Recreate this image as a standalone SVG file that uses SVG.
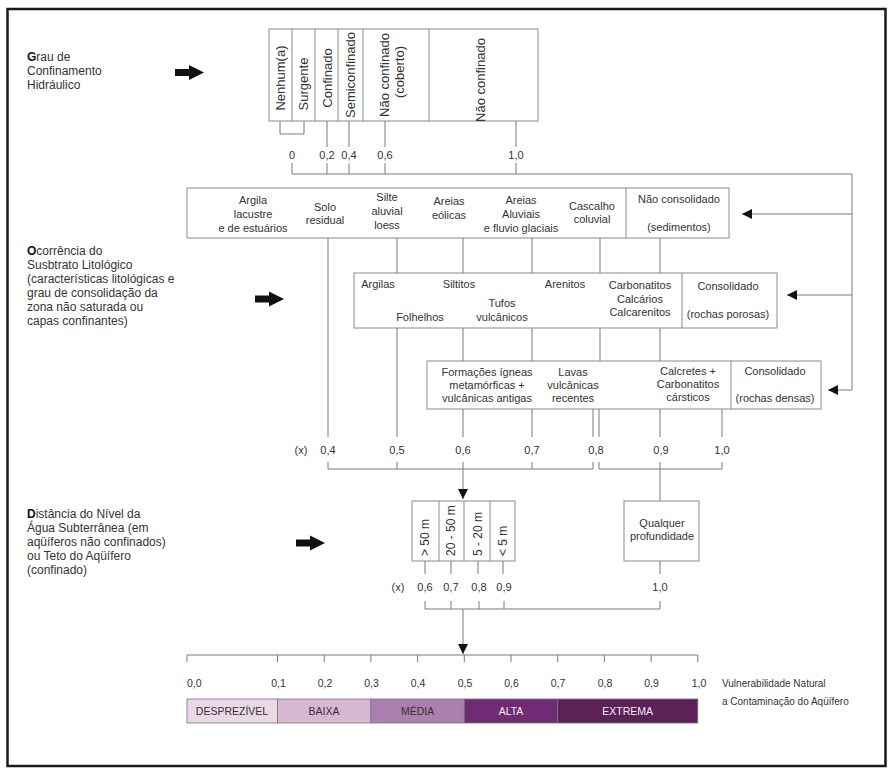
<svg xmlns="http://www.w3.org/2000/svg" width="891" height="772" viewBox="0 0 891 772">
<defs>
<style>
text{font-family:"Liberation Sans",Arial,sans-serif;fill:#333}
.lbl{font-size:12px}
.b{font-weight:bold;fill:#111}
.bx{font-size:11px;text-anchor:middle}
.vt{font-size:13px;text-anchor:middle}
.vd{font-size:12px}
.val{font-size:11px;text-anchor:middle}
.sc{font-size:10.5px;text-anchor:middle}
.bar{font-size:10.5px;text-anchor:middle}
.box{fill:#fff;stroke:#8a8a8a;stroke-width:1}
.dv{stroke:#8a8a8a;stroke-width:1}
.cn{fill:none;stroke:#7a7a7a;stroke-width:1}
.ar{fill:none;stroke:#7a7a7a;stroke-width:1;marker-end:url(#ah)}
.cl{stroke:#777;stroke-width:0.8}
</style>
<marker id="ah" viewBox="0 0 10 10" refX="10" refY="5" markerWidth="10" markerHeight="10" markerUnits="userSpaceOnUse" orient="auto"><path d="M0,0 L10,5 L0,10 Z" fill="#111"/></marker>
<path id="blk" d="M0,-3.5 H14 V-7.5 L29,0 L14,7.5 V3.5 H0 Z" fill="#111"/>
</defs>
<rect x="0" y="0" width="891" height="772" fill="#fff"/>
<rect x="7.5" y="9" width="878" height="757" fill="none" stroke="#1a1a1a" stroke-width="2.5"/>

<g id="labels">
<text class="lbl" x="27" y="61"><tspan class="b">G</tspan>rau de</text>
<text class="lbl" x="27" y="75">Confinamento</text>
<text class="lbl" x="27" y="89">Hidráulico</text>
<use href="#blk" x="175" y="72.5"/>
<text class="lbl" x="27" y="254.5"><tspan class="b">O</tspan>corrência do</text>
<text class="lbl" x="27" y="268.5">Susbtrato Litológico</text>
<text class="lbl" x="27" y="282.5">(características litológicas e</text>
<text class="lbl" x="27" y="296.5">grau de consolidação da</text>
<text class="lbl" x="27" y="310.5">zona não saturada ou</text>
<text class="lbl" x="27" y="324.5">capas confinantes)</text>
<use href="#blk" x="255" y="299"/>
<text class="lbl" x="27" y="518"><tspan class="b">D</tspan>istância do Nível da</text>
<text class="lbl" x="27" y="532">Água Subterrânea (em</text>
<text class="lbl" x="27" y="546">aqüíferos não confinados)</text>
<text class="lbl" x="27" y="560">ou Teto do Aqüífero</text>
<text class="lbl" x="27" y="574">(confinado)</text>
<use href="#blk" x="296" y="543"/>
</g>

<g id="connectors">
<path class="cn" d="M280,121 V134 H304 V121"/>
<path class="cn" d="M327,121 V147 M349,121 V147 M385,121 V147 M516,121 V147"/>
<path class="cn" d="M292,163 V174 M327,163 V174 M349,163 V174 M385,163 V174 M516,163 V174"/>
<path class="cn" d="M292,174 H852 V390"/>
<path class="ar" d="M852,214 H742"/>
<path class="ar" d="M852,295 H787"/>
<path class="ar" d="M852,390 H828"/>
<path class="cn" d="M397,238 V273 M463,238 V273 M532,238 V273 M600,238 V273 M660,238 V273"/>
<path class="cn" d="M328,238 V437"/>
<path class="cn" d="M463,328 V361 M532,328 V361 M600,328 V361 M660,328 V361"/>
<path class="cn" d="M397,328 V437"/>
<path class="cn" d="M463,409 V437 M532,409 V437 M593,409 V437 M599,409 V437 M660,409 V437 M722,409 V437"/>
<path class="cn" d="M328,462 V469 H593 V462 M397,462 V469 M463,462 V469 M532,462 V469"/>
<path class="cn" d="M599,462 V469 H722 V462 M660,462 V501"/>
<path class="ar" d="M463,469 V499"/>
<path class="cn" d="M425,561 V574 M451,561 V574 M478,561 V574 M503,561 V574 M660,561 V574"/>
<path class="cn" d="M425,601 V609 H660 V601 M451,601 V609 M479,601 V609 M504,601 V609"/>
<path class="ar" d="M463,609 V654"/>
</g>

<g id="confinamento">
<rect class="box" x="269" y="29" width="269" height="92"/>
<path class="dv" d="M292,29 V121 M315,29 V121 M338,29 V121 M363,29 V121 M429,29 V121"/>
<text class="vt" transform="translate(284.5,78) rotate(-90)">Nenhum(a)</text>
<text class="vt" transform="translate(308,84) rotate(-90)">Surgente</text>
<text class="vt" transform="translate(331.5,78) rotate(-90)">Confinado</text>
<text class="vt" transform="translate(355,75) rotate(-90)">Semiconfinado</text>
<text class="vt" transform="translate(389,75) rotate(-90)">Não confinado</text>
<text class="vt" transform="translate(404,72) rotate(-90)">(coberto)</text>
<text class="vt" transform="translate(484.5,80) rotate(-90)">Não confinado</text>
<text class="val" x="292" y="159">0</text>
<text class="val" x="327" y="159">0,2</text>
<text class="val" x="349" y="159">0,4</text>
<text class="val" x="385" y="159">0,6</text>
<text class="val" x="516" y="159">1,0</text>
</g>

<g id="nao-consolidado">
<rect class="box" x="187" y="188" width="542" height="50"/>
<path class="dv" d="M626,188 V238"/>
<text class="bx" x="253" y="204">Argila</text>
<text class="bx" x="253" y="218">lacustre</text>
<text class="bx" x="253" y="231.5">e de estuários</text>
<text class="bx" x="325" y="210.5">Solo</text>
<text class="bx" x="325" y="224">residual</text>
<text class="bx" x="387" y="200.5">Silte</text>
<text class="bx" x="387" y="215">aluvial</text>
<text class="bx" x="387" y="229">loess</text>
<text class="bx" x="449" y="205">Areias</text>
<text class="bx" x="449" y="219">eólicas</text>
<text class="bx" x="521" y="204">Areias</text>
<text class="bx" x="521" y="218">Aluviais</text>
<text class="bx" x="521" y="232">e fluvio glaciais</text>
<text class="bx" x="592" y="209.5">Cascalho</text>
<text class="bx" x="592" y="223">coluvial</text>
<text class="bx" x="679" y="203">Não consolidado</text>
<text class="bx" x="679" y="230.5">(sedimentos)</text>
</g>

<g id="consolidado-poroso">
<rect class="box" x="354" y="273" width="423" height="55"/>
<path class="dv" d="M682,273 V328"/>
<text class="bx" x="378" y="287.5">Argilas</text>
<text class="bx" x="459" y="287.5">Siltitos</text>
<text class="bx" x="565" y="287.5">Arenitos</text>
<text class="bx" x="502" y="306.5">Tufos</text>
<text class="bx" x="502" y="320.5">vulcânicos</text>
<text class="bx" x="420" y="320.5">Folhelhos</text>
<text class="bx" x="640" y="289">Carbonatitos</text>
<text class="bx" x="640" y="302.5">Calcários</text>
<text class="bx" x="640" y="315.5">Calcarenitos</text>
<text class="bx" x="728" y="290">Consolidado</text>
<text class="bx" x="728" y="317.5">(rochas porosas)</text>
</g>

<g id="consolidado-denso">
<rect class="box" x="427" y="361" width="394" height="48"/>
<path class="dv" d="M731,361 V409"/>
<text class="bx" x="487" y="375.5">Formações ígneas</text>
<text class="bx" x="487" y="389">metamórficas +</text>
<text class="bx" x="487" y="402">vulcânicas antigas</text>
<text class="bx" x="573" y="375.5">Lavas</text>
<text class="bx" x="573" y="389">vulcânicas</text>
<text class="bx" x="573" y="402">recentes</text>
<text class="bx" x="688" y="374.5">Calcretes +</text>
<text class="bx" x="688" y="388">Carbonatitos</text>
<text class="bx" x="688" y="401">cársticos</text>
<text class="bx" x="775" y="374.5">Consolidado</text>
<text class="bx" x="775" y="402">(rochas densas)</text>
</g>

<g id="valores-substrato">
<text class="val" x="301" y="454">(x)</text>
<text class="val" x="328" y="454">0,4</text>
<text class="val" x="397" y="454">0,5</text>
<text class="val" x="463" y="454">0,6</text>
<text class="val" x="532" y="454">0,7</text>
<text class="val" x="596" y="454">0,8</text>
<text class="val" x="661" y="454">0,9</text>
<text class="val" x="722" y="454">1,0</text>
</g>

<g id="profundidade">
<rect class="box" x="412" y="501" width="103" height="60"/>
<path class="dv" d="M439,501 V561 M464,501 V561 M490,501 V561"/>
<text class="vd" transform="translate(429,556) rotate(-90)">&gt; 50 m</text>
<text class="vd" transform="translate(455,556) rotate(-90)">20 - 50 m</text>
<text class="vd" transform="translate(482,556) rotate(-90)">5 - 20 m</text>
<text class="vd" transform="translate(507,556) rotate(-90)">&lt; 5 m</text>
</g>

<g id="qualquer">
<rect class="box" x="624" y="501" width="75" height="60"/>
<text class="bx" x="662" y="527">Qualquer</text>
<text class="bx" x="662" y="540">profundidade</text>
</g>

<g id="valores-profundidade">
<text class="val" x="398" y="591">(x)</text>
<text class="val" x="425" y="591">0,6</text>
<text class="val" x="451" y="591">0,7</text>
<text class="val" x="479" y="591">0,8</text>
<text class="val" x="504" y="591">0,9</text>
<text class="val" x="660" y="591">1,0</text>
</g>

<g id="escala">
<path class="cn" d="M187,655 H698 M187,655 V662 M277.5,655 V662 M324.2,655 V662 M370.9,655 V662 M417.6,655 V662 M464.3,655 V662 M511,655 V662 M557.7,655 V662 M604.4,655 V662 M651.1,655 V662 M697.8,655 V662"/>
<text class="sc" x="187" y="687" style="text-anchor:start">0,0</text>
<text class="sc" x="278.5" y="687">0,1</text>
<text class="sc" x="325" y="687">0,2</text>
<text class="sc" x="371.5" y="687">0,3</text>
<text class="sc" x="418" y="687">0,4</text>
<text class="sc" x="465" y="687">0,5</text>
<text class="sc" x="511.5" y="687">0,6</text>
<text class="sc" x="558" y="687">0,7</text>
<text class="sc" x="605" y="687">0,8</text>
<text class="sc" x="651.5" y="687">0,9</text>
<text class="sc" x="699" y="687">1,0</text>
<text x="722" y="687" style="font-size:10px">Vulnerabilidade Natural</text>
<text x="722" y="705" style="font-size:10px">a Contaminação do Aqüífero</text>
</g>

<g id="classes">
<rect class="cl" x="187" y="699" width="90.5" height="24" fill="#ebd8e7"/>
<rect class="cl" x="277.5" y="699" width="93.4" height="24" fill="#d8b7d3"/>
<rect class="cl" x="370.9" y="699" width="93.4" height="24" fill="#ab80b0"/>
<rect class="cl" x="464.3" y="699" width="93.4" height="24" fill="#6f2b73"/>
<rect class="cl" x="557.7" y="699" width="140.1" height="24" fill="#5a2257"/>
<text class="bar" x="232" y="715">DESPREZÍVEL</text>
<text class="bar" x="324" y="715">BAIXA</text>
<text class="bar" x="417.6" y="715">MÉDIA</text>
<text class="bar" x="511" y="715" style="fill:#f3e8f2">ALTA</text>
<text class="bar" x="627.7" y="715" style="fill:#f3e8f2">EXTREMA</text>
</g>
</svg>
